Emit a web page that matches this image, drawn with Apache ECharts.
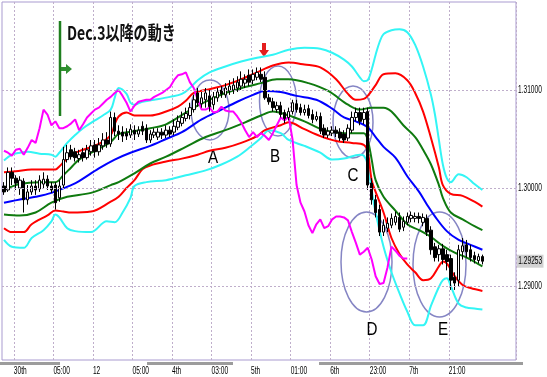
<!DOCTYPE html>
<html><head><meta charset="utf-8">
<script src="https://cdn.jsdelivr.net/npm/echarts@6/dist/echarts.min.js"></script>
<style>html,body{margin:0;padding:0;background:#fff}#c{width:547px;height:377px}</style>
</head><body><div id="c"></div>
<script>
// ---- data ----
const slotCount = 130;
const tickLabels = ['30th','05:00','12','05:00','4th','03:00','5th','01:00','6th','23:00','7th','21:00'];
const tickAt = [3,13,23,33,43,53,63,73,83,93,103,113];
const priceLevels = [1.31, 1.30, 1.29];
const lastPrice = 1.29253;
const yMin = 1.28245, yMax = 1.31898;

// [open, close, low, high]
const candles = [
[1.3002,1.2996,1.2993,1.3006],[1.2998,1.3016,1.2996,1.3021],[1.3016,1.3010,1.3003,1.3021],[1.3010,1.3005,1.2998,1.3013],
[1.3000,1.3008,1.2993,1.3012],[1.3007,1.2988,1.2975,1.3010],[1.2988,1.2996,1.2983,1.3003],[1.2996,1.3002,1.2993,1.3008],
[1.3002,1.2998,1.2993,1.3008],[1.2999,1.3008,1.2996,1.3013],[1.3004,1.3009,1.3000,1.3016],[1.3009,1.3002,1.2998,1.3013],
[1.3002,1.2998,1.2995,1.3006],[1.3003,1.2985,1.2978,1.3006],[1.2990,1.3002,1.2986,1.3008],[1.3003,1.3029,1.3000,1.3042],
[1.3029,1.3036,1.3026,1.3044],[1.3039,1.3032,1.3029,1.3044],[1.3037,1.3031,1.3027,1.3041],[1.3030,1.3034,1.3026,1.3039],
[1.3036,1.3031,1.3027,1.3041],[1.3031,1.3039,1.3029,1.3044],[1.3037,1.3043,1.3033,1.3049],[1.3044,1.3037,1.3031,1.3049],
[1.3037,1.3044,1.3033,1.3051],[1.3043,1.3049,1.3039,1.3056],[1.3049,1.3045,1.3041,1.3057],[1.3045,1.3072,1.3042,1.3078],
[1.3072,1.3058,1.3053,1.3077],[1.3058,1.3055,1.3049,1.3064],[1.3057,1.3053,1.3047,1.3063],[1.3056,1.3053,1.3049,1.3061],
[1.3054,1.3060,1.3051,1.3065],[1.3059,1.3055,1.3049,1.3064],[1.3055,1.3059,1.3052,1.3063],[1.3063,1.3058,1.3054,1.3068],
[1.3061,1.3049,1.3046,1.3065],[1.3049,1.3055,1.3046,1.3059],[1.3054,1.3057,1.3051,1.3061],[1.3052,1.3057,1.3049,1.3061],
[1.3057,1.3054,1.3050,1.3061],[1.3054,1.3059,1.3051,1.3064],[1.3059,1.3055,1.3052,1.3063],[1.3057,1.3063,1.3054,1.3070],
[1.3062,1.3068,1.3059,1.3074],[1.3066,1.3072,1.3063,1.3078],[1.3071,1.3076,1.3068,1.3082],[1.3074,1.3082,1.3070,1.3087],
[1.3080,1.3090,1.3077,1.3095],[1.3097,1.3087,1.3083,1.3102],[1.3086,1.3092,1.3082,1.3098],[1.3090,1.3097,1.3082,1.3102],
[1.3094,1.3083,1.3078,1.3100],[1.3085,1.3093,1.3080,1.3098],[1.3092,1.3098,1.3088,1.3102],[1.3100,1.3096,1.3092,1.3104],
[1.3095,1.3102,1.3092,1.3107],[1.3099,1.3104,1.3095,1.3110],[1.3100,1.3105,1.3096,1.3112],[1.3102,1.3108,1.3098,1.3114],
[1.3104,1.3111,1.3100,1.3119],[1.3107,1.3111,1.3102,1.3116],[1.3115,1.3108,1.3104,1.3121],[1.3110,1.3116,1.3106,1.3121],
[1.3113,1.3118,1.3110,1.3123],[1.3116,1.3111,1.3108,1.3123],[1.3113,1.3092,1.3090,1.3119],[1.3092,1.3088,1.3085,1.3096],
[1.3088,1.3082,1.3078,1.3092],[1.3080,1.3084,1.3077,1.3088],[1.3084,1.3075,1.3072,1.3088],[1.3077,1.3071,1.3066,1.3080],
[1.3072,1.3078,1.3069,1.3082],[1.3078,1.3087,1.3075,1.3090],[1.3086,1.3080,1.3077,1.3090],[1.3082,1.3077,1.3074,1.3086],
[1.3077,1.3080,1.3074,1.3085],[1.3081,1.3074,1.3071,1.3085],[1.3075,1.3070,1.3066,1.3080],[1.3070,1.3073,1.3068,1.3078],
[1.3073,1.3058,1.3055,1.3077],[1.3061,1.3054,1.3051,1.3065],[1.3054,1.3058,1.3051,1.3062],[1.3056,1.3059,1.3053,1.3063],
[1.3059,1.3056,1.3052,1.3063],[1.3057,1.3051,1.3048,1.3061],[1.3055,1.3049,1.3046,1.3059],[1.3051,1.3061,1.3048,1.3065],
[1.3059,1.3072,1.3056,1.3078],[1.3072,1.3077,1.3068,1.3082],[1.3077,1.3068,1.3064,1.3082],[1.3070,1.3077,1.3065,1.3082],
[1.3078,1.3003,1.2998,1.3082],[1.3005,1.2988,1.2983,1.3010],[1.2988,1.2975,1.2970,1.2993],[1.2978,1.2955,1.2951,1.2983],
[1.2955,1.2962,1.2951,1.2968],[1.2959,1.2964,1.2955,1.2970],[1.2962,1.2969,1.2959,1.2974],[1.2965,1.2971,1.2962,1.2976],
[1.2970,1.2958,1.2955,1.2975],[1.2960,1.2966,1.2956,1.2971],[1.2965,1.2971,1.2962,1.2975],[1.2969,1.2972,1.2965,1.2976],
[1.2969,1.2971,1.2965,1.2975],[1.2971,1.2969,1.2964,1.2975],[1.2965,1.2970,1.2961,1.2974],[1.2969,1.2955,1.2951,1.2973],
[1.2957,1.2937,1.2932,1.2961],[1.2940,1.2929,1.2925,1.2944],[1.2932,1.2938,1.2925,1.2942],[1.2938,1.2927,1.2922,1.2943],
[1.2932,1.2925,1.2916,1.2937],[1.2928,1.2906,1.2896,1.2932],[1.2909,1.2903,1.2896,1.2914],[1.2906,1.2937,1.2900,1.2942],
[1.2935,1.2941,1.2927,1.2949],[1.2942,1.2935,1.2929,1.2947],[1.2937,1.2929,1.2925,1.2942],[1.2931,1.2927,1.2923,1.2935],
[1.2926,1.2930,1.2923,1.2933],[1.2930,1.29253,1.2922,1.2932]
];

// bands: [barIndex, price]
const cyanUpper = [[0,1.3028],[2,1.3034],[4,1.3036],[6,1.3037],[9,1.3035],[12,1.3034],[13,1.3032],[14,1.3036],[15,1.3041],[16,1.3046],[18,1.3054],[20,1.3061],[23,1.3069],[25,1.3074],[27,1.3080],[28,1.3092],[29,1.3102],[31,1.3096],[32,1.3087],[33,1.3085],[35,1.3088],[38,1.3090],[42,1.3093],[45,1.3096],[47,1.3102],[49,1.3110],[52,1.3118],[56,1.3124],[60,1.3129],[64,1.3133],[68,1.3136],[72,1.3141],[76,1.3143],[80,1.3142],[83,1.3138],[86,1.3131],[88,1.3124],[90,1.3113],[91,1.3109],[92,1.3110],[93,1.3121],[94,1.3136],[95,1.3149],[96,1.3157],[98,1.3161],[100,1.3162],[102,1.3159],[104,1.3146],[106,1.3124],[108,1.3095],[109,1.3075],[110,1.3049],[111,1.3024],[112,1.3010],[113,1.3006],[115,1.3014],[117,1.3011],[119,1.3004],[121,1.2998]];
const redUpper = [[0,1.3016],[3,1.3017],[7,1.3019],[12,1.3019],[13,1.3019],[14,1.3022],[15,1.3026],[17,1.3034],[20,1.3039],[24,1.3045],[27,1.3054],[28,1.3065],[29,1.3073],[31,1.3077],[33,1.3074],[37,1.3074],[41,1.3078],[44,1.3083],[46,1.3089],[48,1.3097],[51,1.3100],[56,1.3105],[60,1.3111],[64,1.3118],[68,1.3125],[72,1.3128],[76,1.3126],[80,1.3123],[84,1.3111],[87,1.3096],[89,1.3090],[91,1.3091],[92,1.3094],[94,1.3105],[96,1.3116],[99,1.3117],[102,1.3110],[104,1.3097],[106,1.3078],[108,1.3051],[110,1.3021],[111,1.3003],[113,1.2994],[116,1.2992],[119,1.2986],[121,1.2981]];
const greenUpper = [[0,1.2998],[4,1.3004],[9,1.3006],[13,1.3006],[15,1.3013],[17,1.3021],[19,1.3029],[24,1.3040],[27,1.3047],[29,1.3055],[33,1.3058],[37,1.3061],[41,1.3065],[46,1.3077],[49,1.3084],[52,1.3090],[56,1.3097],[61,1.3103],[65,1.3107],[69,1.3111],[72,1.3111],[77,1.3107],[82,1.3099],[87,1.3085],[90,1.3080],[93,1.3082],[96,1.3082],[98,1.3078],[101,1.3064],[104,1.3052],[106,1.3039],[108,1.3024],[110,1.3003],[111,1.2990],[113,1.2975],[116,1.2968],[119,1.2961],[121,1.2957]];
const midLine = [[0,1.2985],[5,1.2989],[8,1.2991],[12,1.2995],[17,1.3003],[19,1.3007],[24,1.3020],[28,1.3029],[32,1.3036],[37,1.3043],[41,1.3050],[45,1.3057],[50,1.3070],[55,1.3080],[59,1.3088],[63,1.3095],[66,1.3099],[70,1.3098],[74,1.3094],[79,1.3090],[83,1.3081],[86,1.3072],[89,1.3068],[92,1.3062],[94,1.3052],[96,1.3042],[99,1.3031],[102,1.3012],[105,1.2996],[107,1.2983],[109,1.2971],[112,1.2956],[115,1.2947],[118,1.2942],[121,1.2937]];
const greenLower = [[0,1.2973],[4,1.2972],[8,1.2975],[12,1.2985],[16,1.2991],[22,1.2995],[27,1.3003],[29,1.3006],[33,1.3015],[37,1.3025],[41,1.3032],[46,1.3042],[51,1.3052],[56,1.3059],[61,1.3067],[65,1.3074],[68,1.3078],[72,1.3074],[76,1.3068],[81,1.3059],[86,1.3056],[91,1.3056],[92,1.3049],[93,1.3029],[94,1.3008],[96,1.2991],[99,1.2977],[102,1.2963],[105,1.2957],[108,1.2950],[111,1.2941],[114,1.2934],[117,1.2929],[121,1.2920]];
const redLower = [[0,1.2959],[2,1.2955],[5,1.2955],[7,1.2963],[11,1.2972],[13,1.2977],[15,1.2976],[17,1.2975],[22,1.2976],[27,1.2986],[29,1.2991],[31,1.3000],[33,1.3008],[35,1.3019],[37,1.3023],[41,1.3027],[45,1.3030],[49,1.3034],[52,1.3038],[56,1.3041],[60,1.3046],[64,1.3053],[66,1.3059],[70,1.3064],[72,1.3067],[76,1.3060],[80,1.3053],[84,1.3048],[88,1.3046],[91,1.3044],[92,1.3037],[93,1.3008],[94,1.2996],[96,1.2975],[98,1.2949],[100,1.2933],[102,1.2922],[104,1.2914],[106,1.2906],[108,1.2908],[110,1.2920],[111,1.2925],[112,1.2923],[114,1.2910],[116,1.2901],[118,1.2898],[121,1.2895]];
const cyanLower = [[0,1.2947],[2,1.2940],[5,1.2939],[7,1.2949],[10,1.2957],[12,1.2966],[13,1.2973],[14,1.2970],[16,1.2959],[18,1.2956],[22,1.2955],[26,1.2966],[28,1.2965],[30,1.2975],[32,1.2990],[33,1.3002],[36,1.3006],[41,1.3008],[46,1.3013],[51,1.3018],[55,1.3024],[59,1.3032],[62,1.3041],[65,1.3051],[67,1.3059],[70,1.3056],[72,1.3049],[76,1.3043],[80,1.3036],[83,1.3029],[86,1.3030],[90,1.3034],[91,1.3033],[92,1.3024],[93,1.2998],[94,1.2975],[96,1.2940],[98,1.2914],[100,1.2893],[102,1.2874],[104,1.2860],[106,1.2860],[108,1.2880],[110,1.2899],[111,1.2906],[112,1.2908],[113,1.2900],[115,1.2882],[117,1.2878],[119,1.2877],[121,1.2876]];

// lagging span (one value per bar from bar 0)
const laggingSpan = [
1.3038,1.3036,1.3033,1.3039,1.3040,1.3034,1.3041,1.3049,1.3046,1.3061,
1.3080,1.3075,1.3064,1.3068,1.3061,1.3061,1.3063,1.3066,1.3070,1.3059,
1.3065,1.3072,1.3076,1.3080,1.3082,1.3086,1.3090,1.3093,1.3097,1.3100,
1.3094,1.3087,1.3078,1.3084,1.3088,1.3089,1.3090,1.3090,1.3093,1.3095,
1.3097,1.3100,1.3103,1.3110,1.3115,1.3116,1.3118,1.3108,1.3102,1.3090,
1.3080,1.3080,1.3082,1.3077,1.3078,1.3083,1.3079,1.3078,1.3078,1.3073,
1.3067,1.3059,1.3052,1.3057,1.3052,1.3056,1.3053,1.3049,1.3056,1.3064,
1.3072,1.3069,1.3073,1.3049,1.3003,1.2985,1.2976,1.2962,1.2954,1.2963,
1.2968,1.2959,1.2961,1.2968,1.2971,1.2971,1.2970,1.2967,1.2955,1.2944,
1.2932,1.2935,1.2939,1.2927,1.2910,1.2902,1.2903,1.2919,1.2940,1.2936,
1.2931,1.2928,1.2928];

// ---- chart ----
const categories = Array.from({length: slotCount}, (_, i) => 'b' + i);
const isTick = {};
tickAt.forEach((idx) => { isTick[idx] = true; });
const LABEL_FONT = "'Liberation Sans',sans-serif";

function band(name, data, color, z) {
  return { type: 'line', name, data, showSymbol: false, smooth: 0.35, silent: true,
    lineStyle: { color, width: 2 }, itemStyle: { color }, z };
}

const annotations = [
  { type: 'rect', shape: { x: 0, y: 362, width: 60, height: 3 }, style: { fill: '#9c9c9c' } },
  { type: 'rect', shape: { x: 147, y: 362, width: 86, height: 3 }, style: { fill: '#9c9c9c' } },
  { type: 'rect', shape: { x: 319, y: 362, width: 204, height: 3 }, style: { fill: '#9c9c9c' } },
  { type: 'line', shape: { x1: 60, y1: 21, x2: 60, y2: 116 }, style: { stroke: '#1f7f1f', lineWidth: 2.5 } },
  { type: 'polygon', shape: { points: [[61,67],[66,67],[66,64],[72,69],[66,74],[66,71],[61,71]] }, style: { fill: '#2f8f2f' } },
  { type: 'polygon', shape: { points: [[262,43],[266,43],[266,50],[269,50],[264,57],[259,50],[262,50]] }, style: { fill: '#e41e1e' } },
  { type: 'text', x: 67, y: 33, scaleX: 0.74,
    style: { text: 'Dec.3以降の動き', fontSize: 19, fontWeight: 'bold', fontFamily: "'Noto Sans CJK JP',sans-serif", fill: '#111', verticalAlign: 'middle', align: 'left' } },
  { type: 'ellipse', shape: { cx: 210, cy: 110, rx: 19, ry: 30 }, style: { fill: 'transparent', stroke: '#8585c4', lineWidth: 1.5 } },
  { type: 'ellipse', shape: { cx: 278, cy: 101, rx: 18.5, ry: 35 }, style: { fill: 'transparent', stroke: '#8585c4', lineWidth: 1.5 } },
  { type: 'ellipse', shape: { cx: 353, cy: 122, rx: 20, ry: 36 }, style: { fill: 'transparent', stroke: '#8585c4', lineWidth: 1.5 } },
  { type: 'ellipse', shape: { cx: 366.5, cy: 262, rx: 25.5, ry: 50 }, style: { fill: 'transparent', stroke: '#8585c4', lineWidth: 1.5 } },
  { type: 'ellipse', shape: { cx: 439.5, cy: 264.5, rx: 26.5, ry: 52.5 }, style: { fill: 'transparent', stroke: '#8585c4', lineWidth: 1.5 } }
];
[['A',213,158],['B',275,157],['C',353,176],['D',372,330],['E',443,330]].forEach(([t, x, y]) => {
  annotations.push({ type: 'text', x, y, scaleX: 0.8,
    style: { text: t, fontSize: 19, fontFamily: "'Liberation Sans',sans-serif", fill: '#000', align: 'center', verticalAlign: 'middle' } });
});

const chart = echarts.init(document.getElementById('c'));
chart.setOption({
  animation: false,
  backgroundColor: '#fff',
  grid: { left: 2, right: 31, top: 2, bottom: 17, show: true, borderColor: '#a99bd0', borderWidth: 1 },
  xAxis: {
    type: 'category', data: categories, boundaryGap: true,
    axisLine: { show: false }, axisTick: { show: false }, axisLabel: { show: false },
    splitLine: { show: true, interval: (i) => !!isTick[i],
      lineStyle: { color: '#bfaecb', type: [2, 2], width: 1 } }
  },
  yAxis: { type: 'value', min: yMin, max: yMax, position: 'right',
    axisLine: { show: false }, axisTick: { show: false }, axisLabel: { show: false }, splitLine: { show: false } },
  series: [
    band('cyanUpper', cyanUpper, '#33f5f5', 2),
    band('cyanLower', cyanLower, '#33f5f5', 2),
    band('redUpper', redUpper, '#ff0000', 2),
    band('redLower', redLower, '#ff0000', 2),
    band('greenUpper', greenUpper, '#0f7a0f', 2),
    band('greenLower', greenLower, '#0f7a0f', 2),
    band('mid', midLine, '#0000ff', 2),
    { type: 'line', name: 'lagging', data: laggingSpan, showSymbol: false, silent: true,
      lineStyle: { color: '#ff00ff', width: 2 }, itemStyle: { color: '#ff00ff' }, z: 3 },
    { type: 'candlestick', name: 'price', data: candles, barWidth: 3, z: 4,
      itemStyle: { color: '#ffffff', color0: '#000000', borderColor: '#000000', borderColor0: '#000000', borderWidth: 1 },
      markLine: { silent: true, symbol: ['none', 'none'], animation: false, label: { show: false },
        lineStyle: { color: '#bfaecb', type: [2, 2], width: 1 },
        data: priceLevels.map(v => ({ yAxis: v })) }
    }
  ]
});

// axis labels placed through the axes' own scales
const gridRight = chart.getWidth() - 31;
const bandW = chart.convertToPixel({ xAxisIndex: 0 }, 1) - chart.convertToPixel({ xAxisIndex: 0 }, 0);
tickAt.forEach((idx, k) => {
  const x = chart.convertToPixel({ xAxisIndex: 0 }, idx) - bandW / 2;
  annotations.push({ type: 'text', x: x, y: 371, scaleX: 0.66,
    style: { text: tickLabels[k], fontSize: 10, fontFamily: LABEL_FONT, fill: '#000', align: 'left', verticalAlign: 'middle' } });
});
priceLevels.forEach((v) => {
  const y = chart.convertToPixel({ yAxisIndex: 0 }, v);
  annotations.push({ type: 'text', x: gridRight + 2, y: y, scaleX: 0.66,
    style: { text: v.toFixed(5), fontSize: 10, fontFamily: LABEL_FONT, fill: '#000', align: 'left', verticalAlign: 'middle' } });
});
const yLast = chart.convertToPixel({ yAxisIndex: 0 }, lastPrice);
annotations.push({ type: 'text', x: gridRight + 1, y: yLast, scaleX: 0.66,
  style: { text: lastPrice.toFixed(5), fontSize: 10, fontFamily: LABEL_FONT, fill: '#000', align: 'left', verticalAlign: 'middle',
    backgroundColor: '#d2d2d2', padding: [2, 2, 1, 2] } });

chart.setOption({ graphic: annotations });
</script></body></html>
